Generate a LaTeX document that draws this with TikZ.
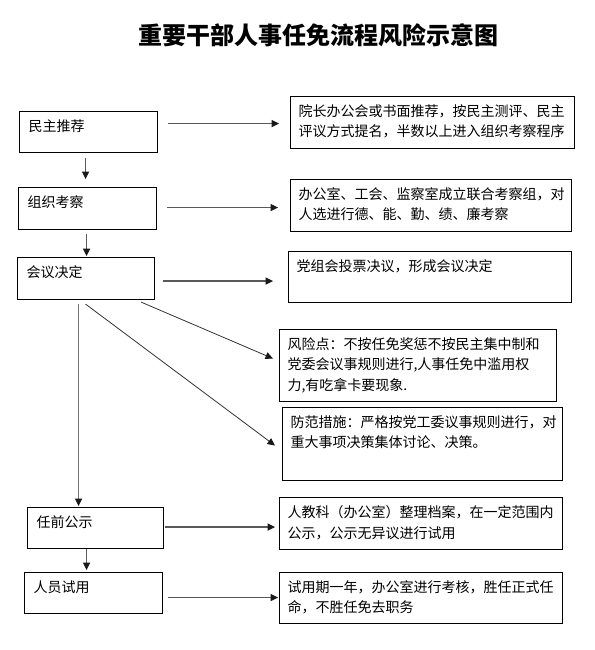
\documentclass[tikz,border=0pt]{standalone}
\usepackage{fontspec}
\setmainfont{Noto Sans CJK SC}
\usepackage{tikz}
\usetikzlibrary{arrows.meta,calc}
\newcommand{\boxtext}[3]{\parbox[c][#2pt][t]{#1pt}{\vspace*{8pt}\raggedright #3}}

\begin{document}
\begin{tikzpicture}[
  x=1pt, y=-1pt,
  every node/.style={font=\fontsize{14}{20.5}\selectfont},
  stage/.style={draw=black, line width=1.1pt, anchor=north west,
                inner xsep=9pt, inner ysep=0pt},
  detail/.style={draw=black, line width=1.1pt, anchor=north west,
                 inner xsep=8pt, inner ysep=0pt},
  arrow/.style={-{Triangle[length=7.5pt,width=7pt,color=black!90,fill=black!90]},
                line width=1.4pt, draw=black!65},
  link/.style={-{Triangle[length=7.5pt,width=7pt,color=black!90,fill=black!90]},
               line width=0.8pt, draw=black!80}
]
\useasboundingbox (0,0) rectangle (594,650);

\node[font=\fontsize{24}{28}\selectfont\bfseries] (title) at (318,35) {重要干部人事任免流程风险示意图};

% left column
\node[stage] (tuijian) at (19,111) {\boxtext{120}{41}{民主推荐}};
\node[stage] (kaocha) at (18,187) {\boxtext{120}{42}{组织考察}};
\node[stage] (juedi) at (17,257) {\boxtext{119}{42}{会议决定}};
\node[stage] (gongshi) at (27,507) {\boxtext{118}{41}{任前公示}};
\node[stage] (shiyong) at (24,572) {\boxtext{120}{41}{人员试用}};

% right column
\node[detail] (tuijiannote) at (290,96) {\boxtext{268}{52}{院长办公会或书面推荐，按民主测评、民主\\评议方式提名，半数以上进入组织考察程序}};
\node[detail] (kaochanote) at (290,179) {\boxtext{265}{52}{办公室、工会、监察室成立联合考察组，对\\人选进行德、能、勤、绩、廉考察}};
\node[detail] (juedinote) at (288,251) {\boxtext{267}{51}{党组会投票决议，形成会议决定}};
\node[detail] (risk) at (279,329) {\boxtext{261}{72}{风险点：不按任免奖惩不按民主集中制和\\党委会议事规则进行,人事任免中滥用权\\力,有吃拿卡要现象.}};
\node[detail] (measure) at (282,407) {\boxtext{264}{73}{防范措施：严格按党工委议事规则进行，对\\重大事项决策集体讨论、决策。}};
\node[detail] (gongshinote) at (279,497) {\boxtext{267}{52}{人教科（办公室）整理档案，在一定范围内\\公示，公示无异议进行试用}};
\node[detail] (shiyongnote) at (279,572) {\boxtext{267}{51}{试用期一年，办公室进行考核，胜任正式任\\命，不胜任免去职务}};

% horizontal arrows
\draw[arrow, shorten >=11pt] ($(tuijian.east)+(10,-8.5)$) coordinate (a1) -- (a1 -| tuijiannote.west);
\draw[arrow, shorten >=12pt] ($(kaocha.east)+(10,-1)$) coordinate (a2) -- (a2 -| kaochanote.west);
\draw[arrow, shorten >=15pt] ($(juedi.east)+(8,2.5)$) coordinate (a3) -- (a3 -| juedinote.west);
\draw[arrow, shorten >=4pt] ($(gongshi.east)+(1,-1)$) coordinate (a4) -- (a4 -| gongshinote.west);
\draw[arrow, shorten >=1pt] ($(shiyong.east)+(5,4.5)$) coordinate (a5) -- (a5 -| shiyongnote.west);

% vertical arrows
\draw[arrow, shorten >=8pt] ($(tuijian.south)+(-3,5)$) coordinate (d1) -- (d1 |- kaocha.north);
\draw[arrow, shorten >=1pt] ($(kaocha.south)+(-1,4)$) coordinate (d2) -- (d2 |- juedi.north);
\draw[arrow, draw=black!55, shorten >=1pt] ($(juedi.south)+(-7.5,4)$) coordinate (d3) -- (d3 |- gongshi.north);
\draw[arrow, shorten >=2pt] ($(gongshi.south)+(-9,0)$) coordinate (d4) -- (d4 |- shiyong.north);

% risk branches
\draw[link] ($(juedi.south east)+(-14,2)$) -- ($(risk.west)+(-6,-7)$);
\draw[link] ($(juedi.south)+(-0.5,4)$) -- ($(measure.west)+(-7,1.5)$);
\end{tikzpicture}
\end{document}
